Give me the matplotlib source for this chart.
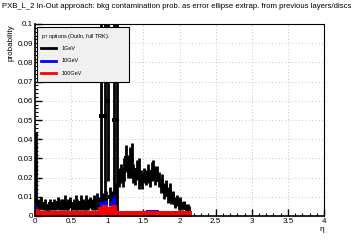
import numpy as np
import matplotlib
matplotlib.use("Agg")
import matplotlib.pyplot as plt
from matplotlib.patches import Rectangle
from matplotlib.lines import Line2D
from matplotlib.ticker import MultipleLocator

plt.rcParams['font.family'] = ['Liberation Sans', 'DejaVu Sans']

title = "PXB_L_2 In-Out approach: bkg contamination prob. as error ellipse extrap. from previous layers/discs"
labels = ["1GeV", "10GeV", "100GeV"]
colors = ["black", "blue", "red"]

# bin centres, width 0.025
eta = np.arange(86) * 0.025 + 0.0125

p1 = [0.025,
      0.006, 0.005, 0.007, 0.005, 0.006, 0.004, 0.005, 0.006, 0.005, 0.006,
      0.005, 0.007, 0.005, 0.006, 0.006, 0.007, 0.005, 0.006, 0.007, 0.005,
      0.006, 0.007, 0.006, 0.005, 0.007, 0.006, 0.005, 0.007, 0.006, 0.007,
      0.006, 0.007, 0.006, 0.008, 0.007,
      0.052, 0.008, 0.052, 0.009, 0.060, 0.010, 0.009, 0.050, 0.012, 0.050,
      0.020, 0.022, 0.019, 0.024, 0.030, 0.026, 0.028, 0.029, 0.022, 0.020,
      0.024, 0.022, 0.020, 0.018, 0.021, 0.020, 0.022, 0.019, 0.023, 0.024,
      0.021, 0.022, 0.019, 0.016, 0.018, 0.013, 0.015, 0.011, 0.013, 0.009,
      0.010, 0.007, 0.008, 0.006, 0.007, 0.005, 0.006, 0.004, 0.004, 0.003]
e1 = [0.019,
      0.003, 0.002, 0.003, 0.002, 0.003, 0.002, 0.002, 0.003, 0.002, 0.003,
      0.002, 0.003, 0.002, 0.003, 0.003, 0.004, 0.002, 0.003, 0.003, 0.002,
      0.003, 0.004, 0.003, 0.002, 0.004, 0.003, 0.002, 0.004, 0.003, 0.003,
      0.003, 0.004, 0.003, 0.004, 0.003,
      0.050, 0.004, 0.050, 0.004, 0.042, 0.005, 0.004, 0.051, 0.005, 0.051,
      0.005, 0.005, 0.004, 0.006, 0.007, 0.006, 0.008, 0.009, 0.005, 0.004,
      0.005, 0.008, 0.004, 0.004, 0.004, 0.004, 0.005, 0.004, 0.005, 0.005,
      0.005, 0.004, 0.004, 0.004, 0.004, 0.004, 0.004, 0.004, 0.004, 0.003,
      0.003, 0.003, 0.003, 0.003, 0.003, 0.002, 0.002, 0.002, 0.002, 0.002]

p10 = [0.004] + [0.0015] * 35 + \
      [0.006, 0.005, 0.006, 0.006, 0.003, 0.002, 0.006, 0.008, 0.003, 0.002] + \
      [0.0015] * 16 + [0.002] * 6 + [0.0015] * 10 + [0.001] * 8
e10 = [0.0015] + [0.0005] * 35 + \
      [0.002, 0.002, 0.002, 0.003, 0.001, 0.001, 0.003, 0.003, 0.001, 0.001] + \
      [0.0004] * 40

p100 = [0.002] + [0.0009] * 35 + \
       [0.003, 0.002, 0.004, 0.003, 0.001, 0.001, 0.003, 0.004, 0.001, 0.001] + \
       [0.0009] * 40
e100 = [0.001] + [0.0005] * 35 + \
       [0.001, 0.001, 0.001, 0.001, 0.0005, 0.0005, 0.001, 0.001, 0.0005, 0.0005] + \
       [0.0005] * 40

fig = plt.figure(figsize=(3.6, 2.4), dpi=100)
ax = fig.add_axes([35/360, 24/240, 289/360, 192/240])

series = [(p1, e1, 3.0), (p10, e10, 3.0), (p100, e100, 4.5)]
for (vals, errs, ms), c in zip(series, colors):
    ax.errorbar(eta, vals, yerr=errs, xerr=0.0125, fmt='s', color=c, ms=ms,
                elinewidth=2.0, capsize=1.8, capthick=2.0, mew=0)

ax.set_xlim(0, 4)
ax.set_ylim(0, 0.1)
ax.xaxis.set_major_locator(MultipleLocator(0.5))
ax.xaxis.set_minor_locator(MultipleLocator(0.1))
ax.yaxis.set_major_locator(MultipleLocator(0.01))
ax.yaxis.set_minor_locator(MultipleLocator(0.002))
ax.tick_params(which='both', direction='in', top=False, right=False, labelsize=5.8, pad=1.5)
ax.tick_params(which='major', length=5, width=1)
ax.tick_params(which='minor', length=2.5, width=0.8)
ax.xaxis.set_major_formatter(plt.FuncFormatter(lambda v, p: f"{v:g}"))
ax.yaxis.set_major_formatter(plt.FuncFormatter(lambda v, p: f"{v:g}"))
ax.grid(True, which='major', ls=(0, (1, 3)), color='#b0b0b0', lw=0.6)
ax.set_axisbelow(True)

for s in ['left', 'bottom']:
    ax.spines[s].set_linewidth(1.2)
for s in ['top', 'right']:
    ax.spines[s].set_linestyle((0, (2, 1)))
    ax.spines[s].set_linewidth(0.8)

ax.set_ylabel("probability", fontsize=5.8, loc='top', labelpad=2)
ax.set_xlabel("\u03b7", fontsize=6, loc='right', labelpad=1)

fig.text(2/360, 1 - 6/240, title, fontsize=5.6, va='center', ha='left')

# legend box
ax.add_patch(Rectangle((0.007, 0.698), 0.318, 0.286, transform=ax.transAxes,
                       facecolor='#f0f0f0', edgecolor='black', lw=0.8, zorder=10))
ax.text(0.02, 0.935, r"p$_{\mathrm{T}}$ options (OutIn, full TRK).", transform=ax.transAxes,
        fontsize=4, va='center', zorder=11)
for i, (lab, c) in enumerate(zip(labels, colors)):
    y = 0.875 - i * 0.066
    ax.add_line(Line2D([0.021, 0.073], [y, y], transform=ax.transAxes, color=c, lw=2, zorder=11))
    ax.text(0.093, y, lab, transform=ax.transAxes, fontsize=4, va='center', zorder=11)

fig.savefig("out.png", dpi=100)
